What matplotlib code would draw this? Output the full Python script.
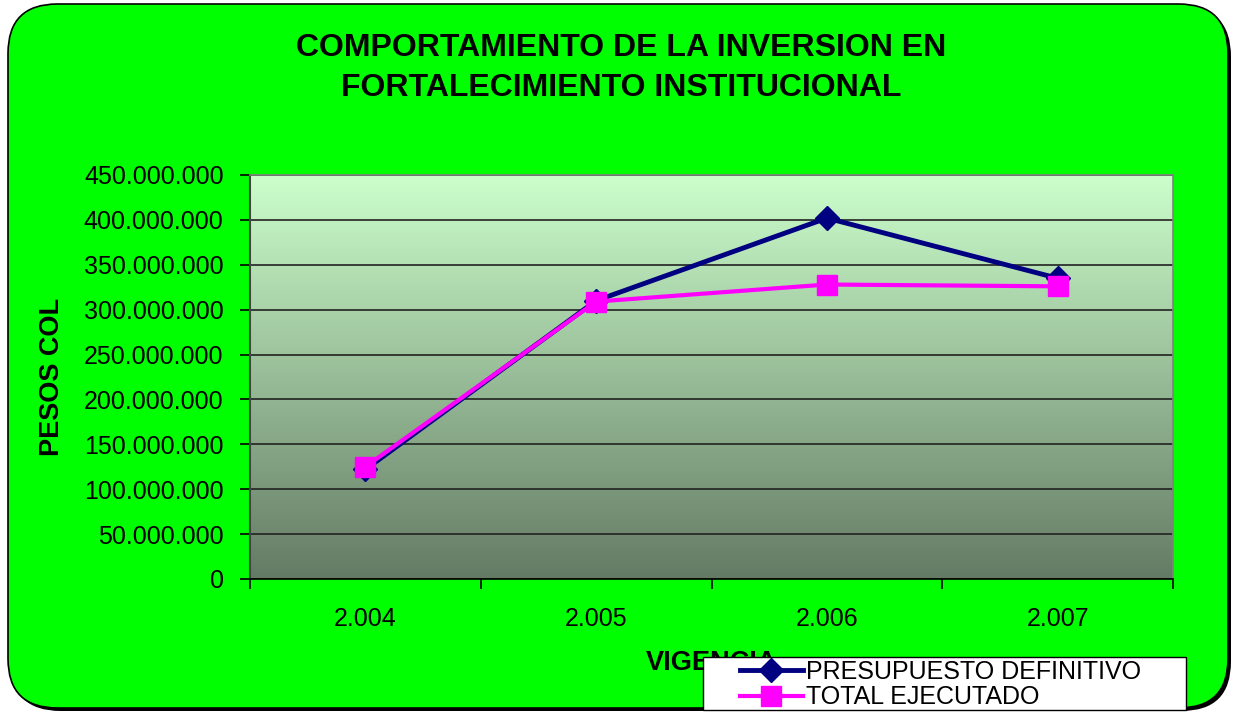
import numpy as np
import matplotlib.pyplot as plt
from matplotlib.patches import FancyBboxPatch, Rectangle
from matplotlib.ticker import FuncFormatter

plt.rcParams['font.family'] = ['Liberation Sans', 'DejaVu Sans']

# Data
years = ['2.004', '2.005', '2.006', '2.007']
presupuesto = [122_000_000, 310_000_000, 402_000_000, 335_000_000]
ejecutado = [125_000_000, 309_000_000, 328_000_000, 326_000_000]

W, H = 1235, 712
fig = plt.figure(figsize=(W / 100, H / 100), dpi=100)
fig.patch.set_facecolor('white')

# rounded green background with a drop shadow
shadow = FancyBboxPatch((11 / W, 1 / H), 1220 / W, 704 / H,
                        boxstyle='round,pad=0,rounding_size=0.04',
                        transform=fig.transFigure, facecolor='black',
                        edgecolor='none', zorder=-3, mutation_aspect=W / H)
box = FancyBboxPatch((8 / W, 4 / H), 1220 / W, 704 / H,
                     boxstyle='round,pad=0,rounding_size=0.04',
                     transform=fig.transFigure, facecolor='#00FF00',
                     edgecolor='black', linewidth=1.2, zorder=-2,
                     mutation_aspect=W / H)
fig.patches.extend([shadow, box])

ax = fig.add_axes([250 / W, 1 - 579 / H, 923 / W, 404 / H])
ax.set_facecolor('none')

x = np.arange(len(years))
ax.set_xlim(-0.5, len(years) - 0.5)
ax.set_ylim(0, 450_000_000)

# vertical gradient for the plot area
top = np.array([204, 255, 204]) / 255
bot = np.array([100, 122, 100]) / 255
t = np.linspace(0, 1, 256)[:, None]
grad = (top * (1 - t) + bot * t)[:, None, :]
ax.imshow(grad, extent=[-0.5, len(years) - 0.5, 0, 450_000_000],
          aspect='auto', zorder=0, interpolation='bilinear')

ax.set_yticks(np.arange(0, 450_000_001, 50_000_000))
ax.yaxis.set_major_formatter(FuncFormatter(
    lambda v, p: '0' if v == 0 else f'{int(v):,}'.replace(',', '.')))
ax.grid(axis='y', color='#222222', linewidth=1.2, zorder=1)

ax.set_xticks(x)
ax.set_xticklabels(years)
ax.set_xticks(np.arange(-0.5, len(years)), minor=True)
ax.tick_params(axis='x', which='major', length=0, labelsize=18, pad=20)
ax.tick_params(axis='x', which='minor', length=7, width=1.2, direction='out')
ax.tick_params(axis='y', length=7, width=1.2, labelsize=18, pad=12)

for side in ['top', 'right']:
    ax.spines[side].set_color('#808080')
    ax.spines[side].set_linewidth(1.2)
ax.spines['left'].set_color('#444444')
ax.spines['left'].set_linewidth(1.5)
ax.spines['bottom'].set_color('black')
ax.spines['bottom'].set_linewidth(1.2)

ax.plot(x, presupuesto, color='#000080', linewidth=3.5, marker='D',
        markersize=12, label='PRESUPUESTO DEFINITIVO', zorder=3)
ax.plot(x, ejecutado, color='#FF00FF', linewidth=3, marker='s',
        markersize=14.5, label='TOTAL EJECUTADO', zorder=4)

fig.text(621 / W, 1 - 68 / H, 'COMPORTAMIENTO DE LA INVERSION EN\nFORTALECIMIENTO INSTITUCIONAL',
         ha='center', va='center', fontsize=23, fontweight='bold',
         linespacing=1.4)
fig.text(52 / W, 1 - 377 / H, 'PESOS COL', rotation=90, ha='center',
         va='center', fontsize=19.5, fontweight='bold')
fig.text(712 / W, 1 - 663 / H, 'VIGENCIA', ha='center', va='center',
         fontsize=19.5, fontweight='bold')

# legend box (white rectangle drawn separately for Excel-like padding)
fig.patches.append(Rectangle((703 / W, 1 - 710 / H), 483 / W, 53 / H,
                             transform=fig.transFigure, facecolor='white',
                             edgecolor='black', linewidth=1.0, zorder=8))
leg = fig.legend(loc='upper left', bbox_to_anchor=(740 / W, 1 - 660 / H),
                 bbox_transform=fig.transFigure, fontsize=18,
                 frameon=False, borderpad=0.0,
                 labelspacing=0.05, handlelength=2.5, handletextpad=0.15,
                 borderaxespad=0)
leg.set_zorder(10)

fig.savefig('out.png', dpi=100)
